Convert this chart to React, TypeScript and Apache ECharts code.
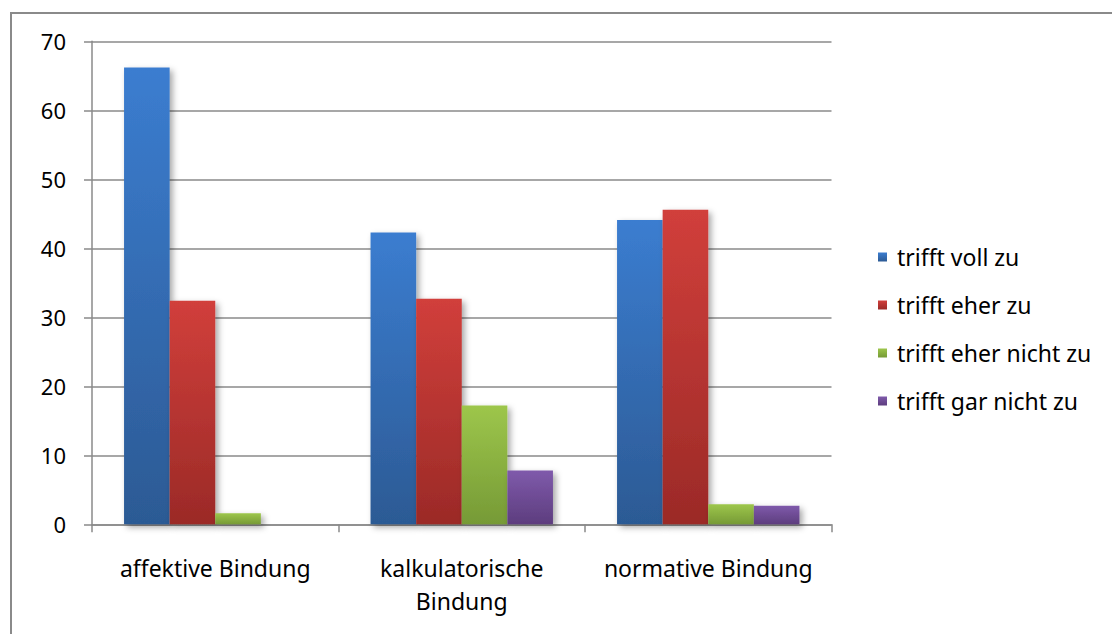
import React, { useEffect, useRef } from "react";
import * as echarts from "echarts";

// Categories and answer shares (percent)
const categories = ["affektive Bindung", "kalkulatorische\nBindung", "normative Bindung"];
const seriesNames = ["trifft voll zu", "trifft eher zu", "trifft eher nicht zu", "trifft gar nicht zu"];
const trifftVoll = [66.2, 42.3, 44.1];
const trifftEher = [32.4, 32.7, 45.6];
const trifftEherNicht = [1.6, 17.2, 2.9];
const trifftGarNicht = [0, 7.8, 2.7];
const yTicks = { min: 0, max: 70, interval: 10 };

// top / bottom colours of each series' vertical gradient
const palette: [string, string][] = [
  ["#3b7dd0", "#2c5a94"],
  ["#d13f3b", "#9b2a27"],
  ["#9dc64b", "#769a36"],
  ["#7f5aab", "#5d3d7e"],
];

const FONT = "'Noto Sans', 'Open Sans', sans-serif";
const GRAY = "#8a8a8a";

export default function App() {
  const ref = useRef<HTMLDivElement>(null);

  useEffect(() => {
    if (!ref.current) return;
    const chart = echarts.init(ref.current, undefined, { renderer: "svg" });
    const values = [trifftVoll, trifftEher, trifftEherNicht, trifftGarNicht];

    const series = values.map((data, i) => ({
      name: seriesNames[i],
      type: "bar",
      data,
      barGap: "0%",
      barCategoryGap: "26%",
      itemStyle: {
        color: new echarts.graphic.LinearGradient(0, 0, 0, 1, [
          { offset: 0, color: palette[i][0] },
          { offset: 1, color: palette[i][1] },
        ]),
        shadowColor: "rgba(0,0,0,0.35)",
        shadowBlur: 6,
        shadowOffsetX: 3,
        shadowOffsetY: 3,
      },
    }));

    chart.setOption({
      animation: false,
      backgroundColor: "#ffffff",
      textStyle: { fontFamily: FONT },
      graphic: [
        {
          type: "rect",
          shape: { x: 11, y: 13, width: 1200, height: 700 },
          style: { fill: "none", stroke: GRAY, lineWidth: 2 },
          silent: true,
          z: 100,
        },
      ],
      grid: { left: 92, top: 41.3, right: 280.5, bottom: 109.7, containLabel: false },
      legend: {
        orient: "vertical",
        left: 873,
        top: 240,
        icon: "rect",
        itemWidth: 9,
        itemHeight: 9,
        itemGap: 24,
        textStyle: { fontSize: 23, color: "#000", fontFamily: FONT, lineHeight: 24, padding: [0, 0, 0, 5] },
        data: seriesNames,
      },
      xAxis: {
        type: "category",
        data: categories,
        axisLine: { show: true, lineStyle: { color: GRAY, width: 1.5 } },
        axisTick: { show: true, length: 8, inside: false, alignWithLabel: false, lineStyle: { color: GRAY, width: 1.5 } },
        axisLabel: { fontSize: 23, color: "#000", margin: 27, lineHeight: 33, fontFamily: FONT, interval: 0 },
        splitLine: { show: false },
      },
      yAxis: {
        type: "value",
        min: yTicks.min,
        max: yTicks.max,
        interval: yTicks.interval,
        axisLine: { show: true, lineStyle: { color: GRAY, width: 1.5 } },
        axisTick: { show: true, length: 8, lineStyle: { color: GRAY, width: 1.5 } },
        axisLabel: { fontSize: 22, color: "#000", margin: 26, fontFamily: FONT },
        splitLine: { show: true, lineStyle: { color: GRAY, width: 1.5 } },
      },
      series,
    });

    return () => chart.dispose();
  }, []);

  return (
    <div
      ref={ref}
      style={{ position: "fixed", left: 0, top: 0, width: 1112, height: 634, background: "#fff" }}
    />
  );
}
